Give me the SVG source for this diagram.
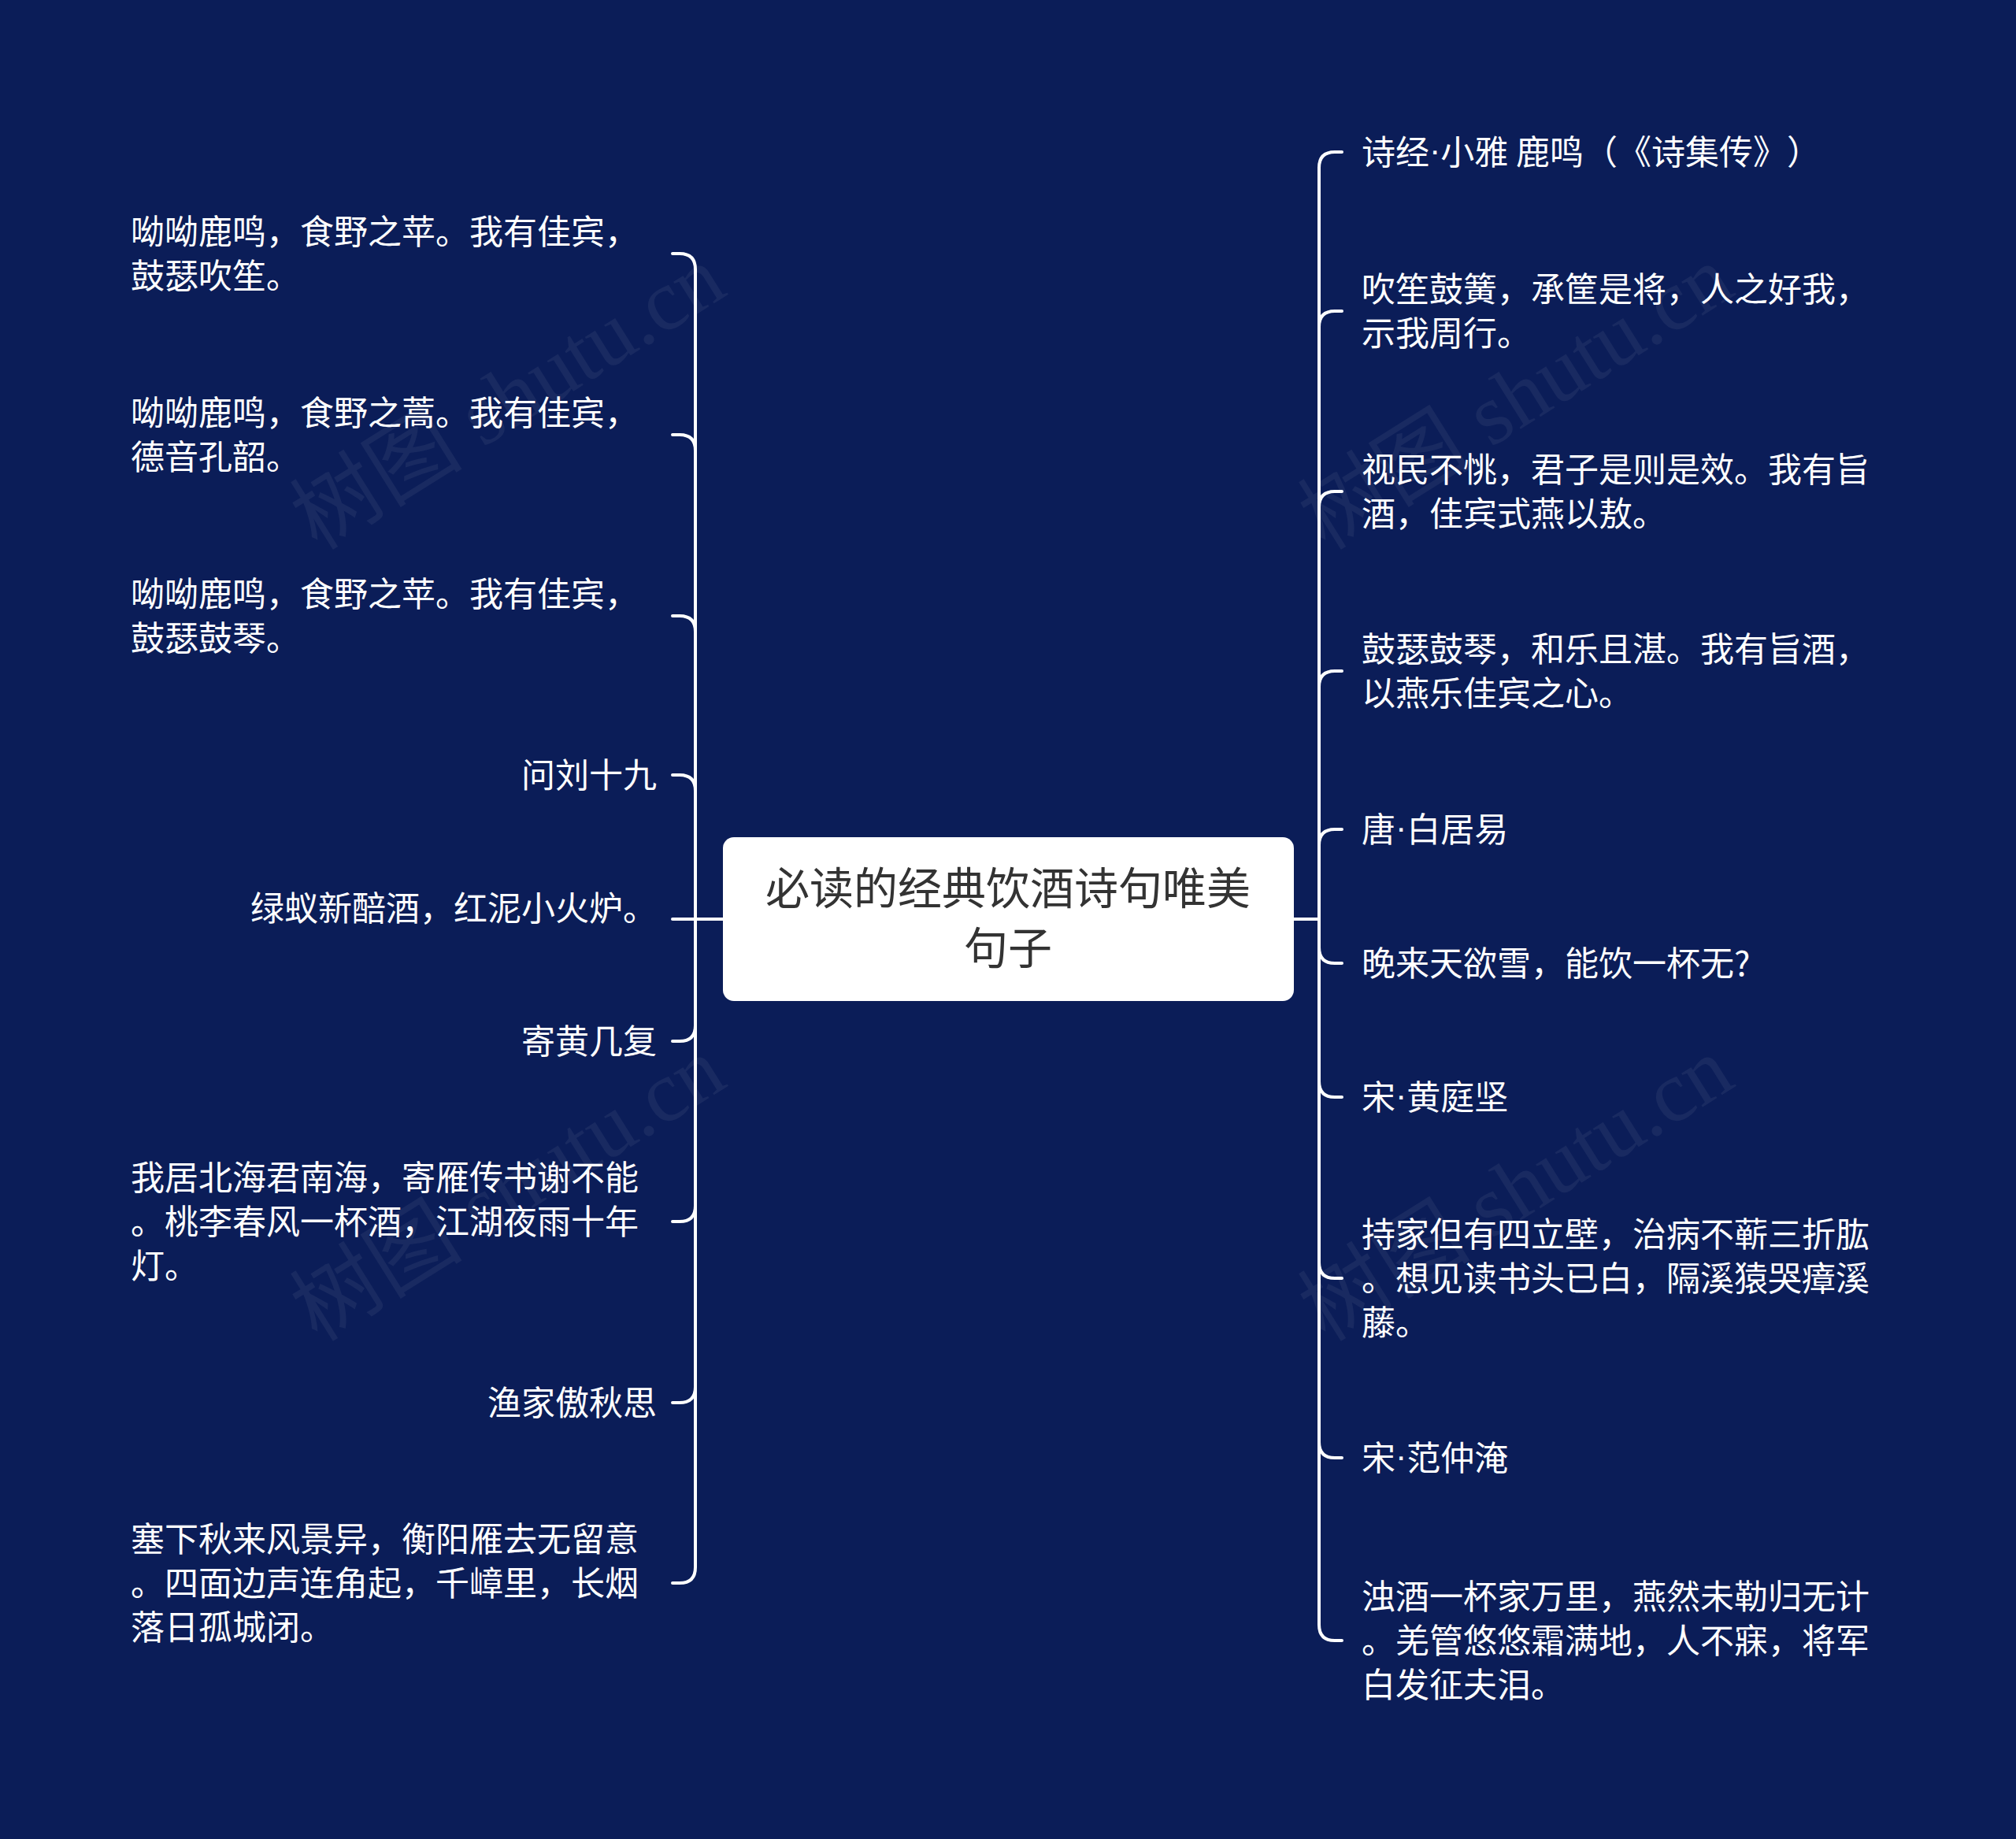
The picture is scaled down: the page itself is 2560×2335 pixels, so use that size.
<svg xmlns="http://www.w3.org/2000/svg" width="2560" height="2335" viewBox="0 0 2560 2335">
<style>
.t{font-family:"Noto Sans CJK SC","Noto Sans",sans-serif;font-size:43px;fill:#ffffff;dominant-baseline:central;text-spacing-trim:space-all}
.e{text-anchor:end}
.d{font-family:"Liberation Sans",sans-serif}
.c{font-family:"Noto Sans CJK SC","Noto Sans",sans-serif;font-size:56px;fill:#333333;text-anchor:middle;dominant-baseline:central}
.w{font-family:"Liberation Serif","Noto Sans CJK SC",serif;font-size:110px;fill:#ffffff;fill-opacity:0.06;text-anchor:middle;dominant-baseline:central}
.k{fill:none;stroke:#ffffff;stroke-width:4;stroke-linecap:round;stroke-linejoin:round}
</style>
<rect x="0" y="0" width="2560" height="2335" fill="#0b1d58"/>
<g id="watermarks">
<text class="w" x="645" y="505" transform="rotate(-32 645 505)">树图 shutu.cn</text>
<text class="w" x="645" y="1510" transform="rotate(-32 645 1510)">树图 shutu.cn</text>
<text class="w" x="1925" y="505" transform="rotate(-32 1925 505)">树图 shutu.cn</text>
<text class="w" x="1925" y="1510" transform="rotate(-32 1925 1510)">树图 shutu.cn</text>
</g>
<g id="connectors">
<path class="k" d="M918 1167 H883 V342 Q883 322 863 322 H854"/>
<path class="k" d="M918 1167 H883 V572 Q883 552 863 552 H854"/>
<path class="k" d="M918 1167 H883 V802 Q883 782 863 782 H854"/>
<path class="k" d="M918 1167 H883 V1004 Q883 984 863 984 H854"/>
<path class="k" d="M918 1167 H854"/>
<path class="k" d="M918 1167 H883 V1302 Q883 1322 863 1322 H854"/>
<path class="k" d="M918 1167 H883 V1531 Q883 1551 863 1551 H854"/>
<path class="k" d="M918 1167 H883 V1761 Q883 1781 863 1781 H854"/>
<path class="k" d="M918 1167 H883 V1990 Q883 2010 863 2010 H854"/>
<path class="k" d="M1643 1167 H1675 V213 Q1675 193 1695 193 H1704"/>
<path class="k" d="M1643 1167 H1675 V415 Q1675 395 1695 395 H1704"/>
<path class="k" d="M1643 1167 H1675 V644 Q1675 624 1695 624 H1704"/>
<path class="k" d="M1643 1167 H1675 V872 Q1675 852 1695 852 H1704"/>
<path class="k" d="M1643 1167 H1675 V1073 Q1675 1053 1695 1053 H1704"/>
<path class="k" d="M1643 1167 H1675 V1203 Q1675 1223 1695 1223 H1704"/>
<path class="k" d="M1643 1167 H1675 V1373 Q1675 1393 1695 1393 H1704"/>
<path class="k" d="M1643 1167 H1675 V1603 Q1675 1623 1695 1623 H1704"/>
<path class="k" d="M1643 1167 H1675 V1831 Q1675 1851 1695 1851 H1704"/>
<path class="k" d="M1643 1167 H1675 V2063 Q1675 2083 1695 2083 H1704"/>
</g>
<g id="center">
<rect x="918" y="1063" width="725" height="208" rx="14" fill="#ffffff"/>
<text class="c" x="1280" y="1123">必读的经典饮酒诗句唯美</text>
<text class="c" x="1280" y="1199">句子</text>
</g>
<g id="l1"><text class="t" x="166" y="291">呦呦鹿鸣，食野之苹。我有佳宾，</text><text class="t" x="166" y="347">鼓瑟吹笙。</text></g>
<g id="l2"><text class="t" x="166" y="521">呦呦鹿鸣，食野之蒿。我有佳宾，</text><text class="t" x="166" y="577">德音孔韶。</text></g>
<g id="l3"><text class="t" x="166" y="751">呦呦鹿鸣，食野之苹。我有佳宾，</text><text class="t" x="166" y="807">鼓瑟鼓琴。</text></g>
<g id="l4"><text class="t e" x="834" y="981">问刘十九</text></g>
<g id="l5"><text class="t e" x="834" y="1150">绿蚁新醅酒，红泥小火炉。</text></g>
<g id="l6"><text class="t e" x="834" y="1319">寄黄几复</text></g>
<g id="l7"><text class="t" x="166" y="1492">我居北海君南海，寄雁传书谢不能</text><text class="t" x="166" y="1548">。桃李春风一杯酒，江湖夜雨十年</text><text class="t" x="166" y="1604">灯。</text></g>
<g id="l8"><text class="t e" x="834" y="1778">渔家傲秋思</text></g>
<g id="l9"><text class="t" x="166" y="1951">塞下秋来风景异，衡阳雁去无留意</text><text class="t" x="166" y="2007">。四面边声连角起，千嶂里，长烟</text><text class="t" x="166" y="2063">落日孤城闭。</text></g>
<g id="r1"><text class="t" x="1729" y="190">诗经<tspan class="d">·</tspan>小雅 鹿鸣（《诗集传》）</text></g>
<g id="r2"><text class="t" x="1729" y="364">吹笙鼓簧，承筐是将，人之好我，</text><text class="t" x="1729" y="420">示我周行。</text></g>
<g id="r3"><text class="t" x="1729" y="593">视民不恌，君子是则是效。我有旨</text><text class="t" x="1729" y="649">酒，佳宾式燕以敖。</text></g>
<g id="r4"><text class="t" x="1729" y="821">鼓瑟鼓琴，和乐且湛。我有旨酒，</text><text class="t" x="1729" y="877">以燕乐佳宾之心。</text></g>
<g id="r5"><text class="t" x="1729" y="1050">唐<tspan class="d">·</tspan>白居易</text></g>
<g id="r6"><text class="t" x="1729" y="1220">晚来天欲雪，能饮一杯无?</text></g>
<g id="r7"><text class="t" x="1729" y="1390">宋<tspan class="d">·</tspan>黄庭坚</text></g>
<g id="r8"><text class="t" x="1729" y="1564">持家但有四立壁，治病不蕲三折肱</text><text class="t" x="1729" y="1620">。想见读书头已白，隔溪猿哭瘴溪</text><text class="t" x="1729" y="1676">藤。</text></g>
<g id="r9"><text class="t" x="1729" y="1848">宋<tspan class="d">·</tspan>范仲淹</text></g>
<g id="r10"><text class="t" x="1729" y="2024">浊酒一杯家万里，燕然未勒归无计</text><text class="t" x="1729" y="2080">。羌管悠悠霜满地，人不寐，将军</text><text class="t" x="1729" y="2136">白发征夫泪。</text></g>
</svg>
